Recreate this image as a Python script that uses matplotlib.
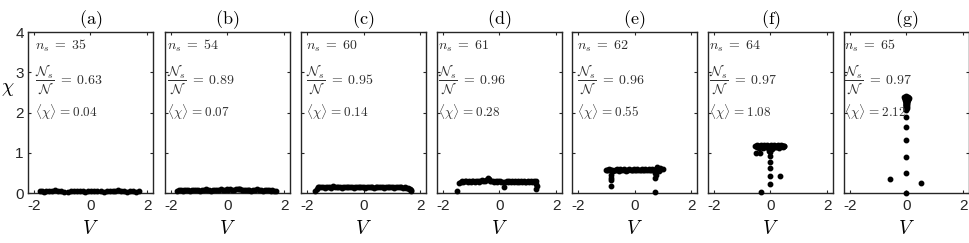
import matplotlib
matplotlib.use("Agg")
import matplotlib.pyplot as plt
from matplotlib.transforms import offset_copy

plt.rcParams['mathtext.fontset'] = 'cm'
plt.rcParams['font.family'] = ['Liberation Sans', 'DejaVu Sans']
plt.rcParams['axes.unicode_minus'] = False

# ---------------- data ----------------
panel_labels = ['(a)', '(b)', '(c)', '(d)', '(e)', '(f)', '(g)']
n_s = [35, 54, 60, 61, 62, 64, 65]
ratio = ['0.63', '0.89', '0.95', '0.96', '0.96', '0.97', '0.97']
mean_chi = ['0.04', '0.07', '0.14', '0.28', '0.55', '1.08', '2.12']

V_a = [-1.78, -1.70, -1.62, -1.55, -1.45, -1.35, -1.25, -1.15, -1.05, -0.95,
       -0.78, -0.68, -0.58, -0.48, -0.38, -0.28, -0.18, -0.08, 0.02, 0.12,
       0.22, 0.38, 0.48, 0.58, 0.68, 0.78, 0.88, 0.98, 1.08, 1.18,
       1.30, 1.40, 1.50, 1.60, 1.70]
chi_a = [0.04, 0.05, 0.03, 0.05, 0.06, 0.04, 0.07, 0.05, 0.04, 0.03,
         0.03, 0.05, 0.04, 0.06, 0.05, 0.04, 0.03, 0.05, 0.06, 0.04,
         0.05, 0.04, 0.03, 0.05, 0.04, 0.06, 0.05, 0.07, 0.05, 0.04,
         0.03, 0.05, 0.04, 0.03, 0.04]

V_b = [-1.78, -1.72, -1.65, -1.58, -1.52, -1.45, -1.38, -1.31, -1.25, -1.18,
       -1.11, -1.04, -0.98, -0.91, -0.84, -0.77, -0.71, -0.64, -0.57, -0.50,
       -0.44, -0.37, -0.30, -0.23, -0.17, -0.10, -0.03, 0.03, 0.10, 0.17,
       0.23, 0.30, 0.37, 0.40, 0.44, 0.50, 0.57, 0.64, 0.71, 0.77,
       0.84, 0.91, 0.98, 1.04, 1.11, 1.18, 1.25, 1.31, 1.38, 1.45,
       1.52, 1.58, 1.65, 1.70]
chi_b = [0.06, 0.07, 0.08, 0.06, 0.07, 0.08, 0.07, 0.06, 0.08, 0.07,
         0.08, 0.07, 0.06, 0.08, 0.07, 0.09, 0.07, 0.08, 0.06, 0.08,
         0.07, 0.08, 0.07, 0.09, 0.08, 0.07, 0.09, 0.08, 0.10, 0.08,
         0.07, 0.09, 0.10, 0.11, 0.09, 0.08, 0.07, 0.08, 0.07, 0.08,
         0.06, 0.08, 0.07, 0.09, 0.07, 0.08, 0.06, 0.07, 0.08, 0.07,
         0.06, 0.07, 0.06, 0.05]

V_c = [-1.70, -1.65, -1.60, -1.55, -1.49, -1.43, -1.37, -1.31, -1.25, -1.19,
       -1.13, -1.07, -1.01, -0.95, -0.89, -0.83, -0.77, -0.71, -0.65, -0.59,
       -0.53, -0.47, -0.41, -0.35, -0.29, -0.23, -0.17, -0.11, -0.05, 0.01,
       0.07, 0.13, 0.19, 0.25, 0.31, 0.37, 0.43, 0.49, 0.55, 0.61,
       0.67, 0.73, 0.79, 0.85, 0.91, 0.97, 1.03, 1.09, 1.15, 1.21,
       1.27, 1.33, 1.39, 1.45, 1.50, 1.55, 1.59, 1.63, 1.66, 1.68]
chi_c = [0.04, 0.10, 0.14, 0.15, 0.14, 0.16, 0.13, 0.15, 0.14, 0.16,
         0.13, 0.17, 0.15, 0.14, 0.16, 0.15, 0.13, 0.16, 0.14, 0.15,
         0.16, 0.14, 0.15, 0.13, 0.16, 0.14, 0.15, 0.16, 0.14, 0.15,
         0.13, 0.15, 0.14, 0.16, 0.15, 0.13, 0.15, 0.14, 0.16, 0.14,
         0.15, 0.13, 0.15, 0.14, 0.16, 0.14, 0.15, 0.13, 0.14, 0.15,
         0.16, 0.14, 0.13, 0.14, 0.12, 0.13, 0.11, 0.10, 0.08, 0.06]

V_d = [-1.48, -1.42, -1.37, -1.32, -1.27, -1.22, -1.17, -1.12, -1.07, -1.02,
       -0.97, -0.92, -0.87, -0.82, -0.77, -0.72, -0.67, -0.62, -0.57, -0.52,
       -0.47, -0.42, -0.38, -0.34, -0.29, -0.24, -0.19, -0.14, -0.09, -0.04,
       0.01, 0.06, 0.11, 0.15, 0.20, 0.25, 0.30, 0.35, 0.40, 0.45,
       0.50, 0.55, 0.60, 0.65, 0.70, 0.75, 0.80, 0.85, 0.90, 0.95,
       1.00, 1.05, 1.10, 1.15, 1.20, 1.25, 1.28, 1.30, 1.31, -0.40, 1.30]
chi_d = [0.04, 0.24, 0.27, 0.29, 0.28, 0.30, 0.29, 0.27, 0.30, 0.28,
         0.29, 0.31, 0.28, 0.30, 0.29, 0.27, 0.30, 0.32, 0.29, 0.31,
         0.33, 0.36, 0.34, 0.31, 0.29, 0.30, 0.28, 0.30, 0.27, 0.29,
         0.31, 0.28, 0.27, 0.14, 0.28, 0.30, 0.27, 0.29, 0.28, 0.30,
         0.27, 0.29, 0.28, 0.30, 0.27, 0.29, 0.28, 0.30, 0.27, 0.28,
         0.29, 0.27, 0.30, 0.28, 0.29, 0.27, 0.30, 0.22, 0.18, 0.37, 0.10]

V_e = [-1.02, -0.98, -0.94, -0.90, -0.86, -0.82, -0.78, -0.74, -0.70, -0.66,
       -0.62, -0.58, -0.54, -0.50, -0.46, -0.42, -0.38, -0.34, -0.30, -0.26,
       -0.22, -0.18, -0.14, -0.10, -0.06, -0.02, 0.02, 0.06, 0.10, 0.14,
       0.18, 0.22, 0.26, 0.30, 0.34, 0.38, 0.42, 0.46, 0.50, 0.54,
       0.58, 0.62, 0.66, 0.70, 0.74, 0.78, 0.82, 0.86, 0.90, 0.95,
       1.00, 0.80, 0.85, -0.83, -0.83, -0.83, -0.83, 0.72, 0.72, 0.72, 0.74, -0.55]
chi_e = [0.57, 0.58, 0.56, 0.59, 0.57, 0.58, 0.56, 0.55, 0.58, 0.57,
         0.59, 0.56, 0.57, 0.60, 0.58, 0.56, 0.59, 0.57, 0.55, 0.58,
         0.57, 0.60, 0.58, 0.56, 0.57, 0.59, 0.58, 0.56, 0.60, 0.57,
         0.58, 0.56, 0.59, 0.57, 0.58, 0.60, 0.57, 0.56, 0.59, 0.58,
         0.57, 0.59, 0.56, 0.58, 0.60, 0.57, 0.59, 0.58, 0.62, 0.60,
         0.59, 0.64, 0.55, 0.44, 0.38, 0.33, 0.18, 0.50, 0.38, 0.03, 0.45, 0.54]

V_f = [-0.53, -0.50, -0.47, -0.44, -0.41, -0.38, -0.35, -0.32, -0.29, -0.26,
       -0.23, -0.20, -0.17, -0.14, -0.11, -0.08, -0.05, -0.02, 0.01, 0.04,
       0.07, 0.10, 0.13, 0.16, 0.19, 0.22, 0.25, 0.28, 0.31, 0.34,
       0.37, 0.40, 0.43, 0.46, 0.49, -0.48, -0.40, -0.30, -0.20, -0.10,
       0.00, 0.10, 0.20, 0.30, -0.50, -0.38, -0.05, -0.02, 0.02, -0.03,
       -0.03, -0.03, -0.03, -0.03, -0.03, 0.34, -0.33, 0.05, -0.45, 0.15,
       0.25, 0.40, -0.25, 0.45]
chi_f = [1.18, 1.17, 1.19, 1.16, 1.18, 1.17, 1.19, 1.18, 1.16, 1.17,
         1.19, 1.18, 1.16, 1.17, 1.19, 1.18, 1.15, 1.17, 1.19, 1.16,
         1.18, 1.17, 1.19, 1.16, 1.18, 1.17, 1.19, 1.18, 1.16, 1.17,
         1.19, 1.18, 1.16, 1.17, 1.18, 1.14, 1.13, 1.15, 1.14, 1.12,
         1.13, 1.14, 1.15, 1.13, 1.00, 1.00, 1.05, 1.08, 1.10, 0.92,
         0.78, 0.63, 0.43, 0.23, 1.03, 0.43, 0.02, 1.10, 1.15, 1.14,
         1.15, 1.16, 1.13, 1.15]

V_g = [-0.08, -0.05, -0.01, 0.03, 0.06, 0.08, -0.06, -0.03, 0.00, 0.04,
       0.06, -0.07, -0.04, -0.01, 0.02, 0.04, 0.06, -0.05, -0.02, 0.00,
       0.02, 0.04, -0.03, -0.01, 0.01, 0.03, -0.02, 0.00, 0.02, -0.01,
       0.01, 0.00, -0.02, 0.02, 0.00, -0.01, 0.01, 0.00, 0.00, 0.01,
       -0.01, 0.00, 0.00, 0.01, -0.01, 0.00, 0.00, 0.00, 0.00, 0.00,
       0.00, 0.00, 0.00, 0.00, 0.00, -0.59, 0.51, 0.00, 0.02, -0.04,
       0.04, 0.00, 0.01, -0.01, 0.00]
chi_g = [2.38, 2.39, 2.40, 2.39, 2.38, 2.37, 2.36, 2.37, 2.38, 2.36,
         2.35, 2.34, 2.35, 2.36, 2.35, 2.34, 2.33, 2.32, 2.33, 2.34,
         2.32, 2.31, 2.30, 2.31, 2.30, 2.29, 2.28, 2.27, 2.28, 2.26,
         2.25, 2.24, 2.22, 2.23, 2.20, 2.18, 2.16, 2.14, 2.12, 2.10,
         2.08, 2.06, 2.38, 2.37, 2.36, 2.35, 1.88, 1.65, 1.32, 0.90,
         0.49, 0.01, 2.39, 2.33, 2.27, 0.36, 0.24, 2.30, 2.34, 2.37,
         2.36, 2.31, 2.21, 2.19, 2.15]

V_all = [V_a, V_b, V_c, V_d, V_e, V_f, V_g]
chi_all = [chi_a, chi_b, chi_c, chi_d, chi_e, chi_f, chi_g]

x_ticks = [-2, 0, 2]
y_ticks = [0, 1, 2, 3, 4]

# ---------------- figure ----------------
W, H = 970, 243
fig = plt.figure(figsize=(W / 100, H / 100), dpi=100)

lefts_px = [28, 165, 301, 437, 572, 708, 844]
text_off_px = [7, 2, 5, 1, 5, 1, 0]
ax_w_px, ax_top_px, ax_bot_px = 125, 32, 193
axis_col = '#262626'
text_col = '#303030'

for i, (lp, V, chi) in enumerate(zip(lefts_px, V_all, chi_all)):
    ax = fig.add_axes([lp / W, 1 - ax_bot_px / H, ax_w_px / W, (ax_bot_px - ax_top_px) / H])
    ax.plot(V, chi, 'o', color='black', ms=3.2, mec='black', ls='none', clip_on=False, zorder=3)
    ax.set_xlim(-2.2, 2.2)
    ax.set_ylim(0, 4)
    ax.set_xticks(x_ticks)
    ax.set_yticks(y_ticks)
    ax.tick_params(direction='in', top=True, right=True, length=2.5, width=0.8,
                   labelsize=11, colors=axis_col, pad=3)
    ax.tick_params(axis='x', pad=4)
    if i > 0:
        ax.set_yticklabels([])
    for sp in ax.spines.values():
        sp.set_color(axis_col)
        sp.set_linewidth(1.0)
    ax.set_title(r'$\mathrm{' + panel_labels[i] + '}$', fontsize=13, pad=6, color='black')
    ax.set_xlabel(r'$V$', fontsize=14, va='center')
    ax.xaxis.set_label_coords(0.5, -0.225)
    if i == 0:
        ax.set_ylabel(r'$\chi$', fontsize=14, rotation=0, va='center', ha='center')
        ax.yaxis.set_label_coords(-0.16, 0.64)
    tr = offset_copy(ax.get_yaxis_transform(), fig=fig, x=text_off_px[i], y=0, units='dots')
    ax.text(0, 3.65, r'$n_s\;=\;%d$' % n_s[i], fontsize=10, color=text_col,
            va='center', ha='left', transform=tr, zorder=4)
    ax.text(0, 2.8, r'$\dfrac{\mathcal{N}_s}{\mathcal{N}}\;=\;%s$' % ratio[i], fontsize=10,
            color=text_col, va='center', ha='left', transform=tr, zorder=4)
    ax.text(0, 2.02, r'$\langle\chi\rangle\,{=}%s$' % mean_chi[i], fontsize=9.5,
            color=text_col, va='center', ha='left', transform=tr, zorder=4)

fig.savefig('out.png', dpi=100)
